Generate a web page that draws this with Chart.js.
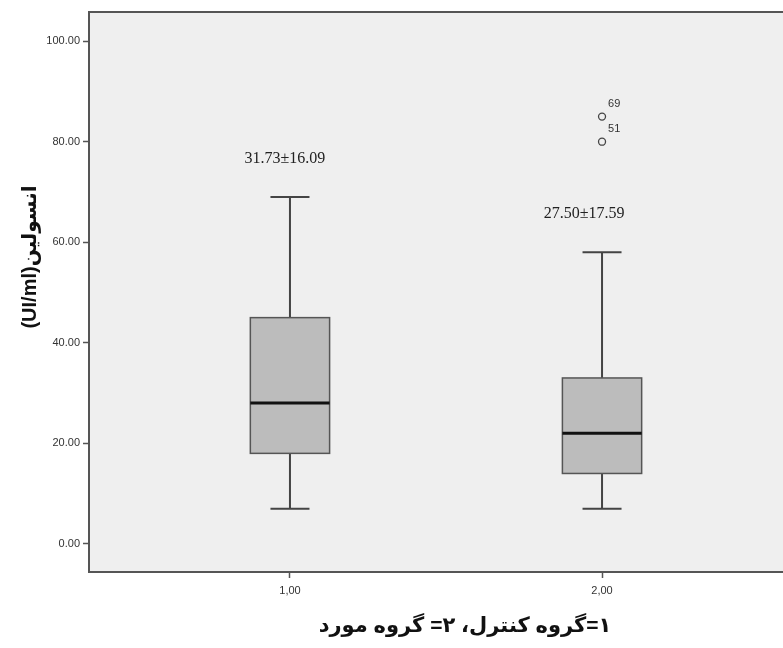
<!DOCTYPE html>
<html>
<head>
<meta charset="utf-8">
<script src="https://cdn.jsdelivr.net/npm/chart.js@4"></script>
<style>
body { margin: 0; background: #fff; overflow: hidden; }
#wrap { width: 820px; height: 648px; }
</style>
</head>
<body>
<div id="wrap"><canvas id="myChart" width="820" height="648"></canvas></div>
<script>
// data
var groups = [1, 2];
var groupLabels = ["1,00", "2,00"];
var whiskerLow = [7, 7];
var q1 = [18, 14];
var medians = [28, 22];
var q3 = [45, 33];
var whiskerHigh = [69, 58];
var meanSd = ["31.73±16.09", "27.50±17.59"];
var outlierX = [2, 2];
var outlierY = [85, 80];
var outlierIds = ["69", "51"];
var yTicks = [0, 20, 40, 60, 80, 100];
var yTitle = "انسولین(UI/ml)";
var xTitle = "۱=گروه کنترل، ۲= گروه مورد";

var boxHalf = 0.127;   // half box width, x units
var capHalf = 0.0625;  // half whisker cap width
var labelShift = [-5, -18];

// draws boxes, whiskers, frame and titles with the chart's scales
var boxPlot = {
    id: "boxPlot",
    beforeDraw: function(chart) {
        var ctx = chart.ctx, a = chart.chartArea;
        ctx.save();
        ctx.fillStyle = "#efefef";
        ctx.fillRect(a.left, a.top, a.right - a.left, a.bottom - a.top);
        ctx.restore();
    },
    beforeDatasetsDraw: function(chart) {
        var ctx = chart.ctx;
        var xs = chart.scales.x, ys = chart.scales.y;
        ctx.save();
        for (var i = 0; i < groups.length; i++) {
            var cx = xs.getPixelForValue(groups[i]);
            var bl = xs.getPixelForValue(groups[i] - boxHalf);
            var br = xs.getPixelForValue(groups[i] + boxHalf);
            var cl = xs.getPixelForValue(groups[i] - capHalf);
            var cr = xs.getPixelForValue(groups[i] + capHalf);
            var yLo = ys.getPixelForValue(whiskerLow[i]);
            var yQ1 = ys.getPixelForValue(q1[i]);
            var yMed = ys.getPixelForValue(medians[i]);
            var yQ3 = ys.getPixelForValue(q3[i]);
            var yHi = ys.getPixelForValue(whiskerHigh[i]);

            ctx.strokeStyle = "#444";
            ctx.lineWidth = 2;
            ctx.beginPath();
            ctx.moveTo(cx, yHi); ctx.lineTo(cx, yQ3);
            ctx.moveTo(cx, yQ1); ctx.lineTo(cx, yLo);
            ctx.moveTo(cl, yHi); ctx.lineTo(cr, yHi);
            ctx.moveTo(cl, yLo); ctx.lineTo(cr, yLo);
            ctx.stroke();

            ctx.fillStyle = "#bcbcbc";
            ctx.fillRect(bl, yQ3, br - bl, yQ1 - yQ3);
            ctx.strokeStyle = "#555";
            ctx.lineWidth = 1.5;
            ctx.strokeRect(bl, yQ3, br - bl, yQ1 - yQ3);

            ctx.strokeStyle = "#111";
            ctx.lineWidth = 3;
            ctx.beginPath();
            ctx.moveTo(bl, yMed); ctx.lineTo(br, yMed);
            ctx.stroke();

            // mean ± sd text above the upper whisker
            ctx.fillStyle = "#222";
            ctx.font = "16px 'Liberation Serif'";
            ctx.textAlign = "center";
            ctx.textBaseline = "middle";
            ctx.fillText(meanSd[i], cx + labelShift[i], ys.getPixelForValue(whiskerHigh[i] + 7.6));
        }
        ctx.restore();
    },
    afterDraw: function(chart) {
        var ctx = chart.ctx, a = chart.chartArea;
        var xs = chart.scales.x, ys = chart.scales.y;
        ctx.save();
        ctx.strokeStyle = "#555";
        ctx.lineWidth = 2;
        ctx.strokeRect(a.left, a.top, a.right - a.left, a.bottom - a.top);

        // case numbers next to outliers
        ctx.fillStyle = "#333";
        ctx.font = "11px 'Liberation Sans'";
        ctx.textAlign = "left";
        ctx.textBaseline = "middle";
        for (var i = 0; i < outlierY.length; i++) {
            ctx.fillText(outlierIds[i], xs.getPixelForValue(outlierX[i]) + 6, ys.getPixelForValue(outlierY[i]) - 13);
        }

        ctx.fillStyle = "#111";
        ctx.font = "bold 21px 'Liberation Sans', 'DejaVu Sans'";
        ctx.direction = "rtl";
        ctx.textAlign = "center";
        ctx.fillText(xTitle, 465, 626);

        ctx.font = "bold 20px 'Liberation Sans', 'DejaVu Sans'";
        ctx.translate(30, 257);
        ctx.rotate(-Math.PI / 2);
        ctx.fillText(yTitle, 0, 0);
        ctx.restore();
    }
};

new Chart("myChart", {
    type: "scatter",
    data: {
        datasets: [{
            data: outlierX.map(function(x, i) { return { x: x, y: outlierY[i] }; }),
            pointStyle: "circle",
            pointRadius: 3.5,
            borderColor: "#444",
            borderWidth: 1.3,
            backgroundColor: "rgba(0,0,0,0)"
        }]
    },
    options: {
        responsive: false,
        animation: false,
        events: [],
        layout: { padding: { top: 12, right: 17, left: 0, bottom: 0 } },
        plugins: { legend: { display: false }, tooltip: { enabled: false } },
        scales: {
            x: {
                type: "linear",
                min: 0.356,
                max: 2.644,
                afterBuildTicks: function(s) { s.ticks = groups.map(function(v) { return { value: v }; }); },
                afterFit: function(s) { s.height = 76; },
                ticks: {
                    callback: function(v) { return groupLabels[groups.indexOf(v)]; },
                    font: { family: "Liberation Sans", size: 11 },
                    color: "#333",
                    padding: 6,
                    maxRotation: 0
                },
                grid: { drawOnChartArea: false, tickLength: 6, tickColor: "#555", tickWidth: 1.5 },
                border: { color: "#555", width: 2 }
            },
            y: {
                min: -5.6,
                max: 105.8,
                afterBuildTicks: function(s) { s.ticks = yTicks.map(function(v) { return { value: v }; }); },
                afterFit: function(s) { s.width = 89; },
                ticks: {
                    callback: function(v) { return v.toFixed(2); },
                    font: { family: "Liberation Sans", size: 11 },
                    color: "#333",
                    padding: 3
                },
                grid: { drawOnChartArea: false, tickLength: 6, tickColor: "#555", tickWidth: 1.5 },
                border: { color: "#555", width: 2 }
            }
        }
    },
    plugins: [boxPlot]
});
</script>
</body>
</html>
